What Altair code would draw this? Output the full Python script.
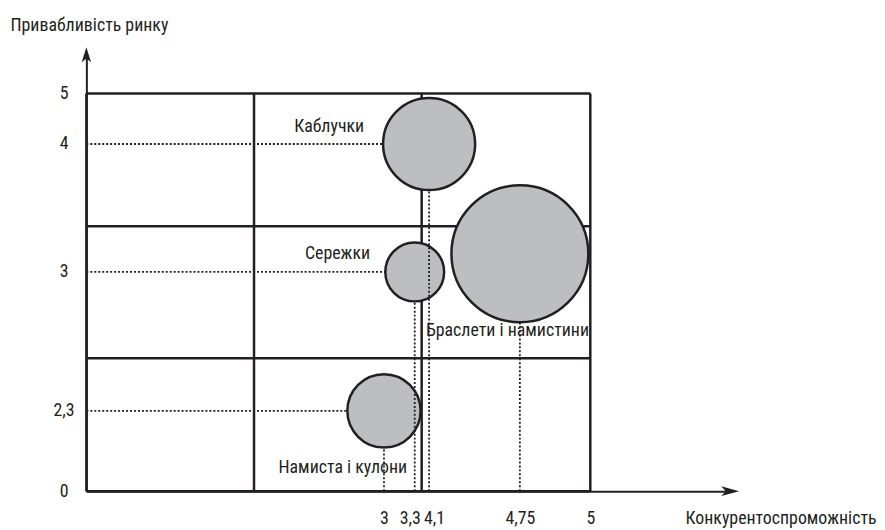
import altair as alt
import pandas as pd

# ---------------- data ----------------
products = ["Намиста і кулони", "Сережки", "Каблучки", "Браслети і намистини"]
competitiveness = [3.0, 3.3, 4.1, 4.75]
attractiveness = [2.3, 3.0, 4.0, 3.2]
share = [14.9, 9.6, 23.5, 52.0]
h_guide = [True, True, True, False]

x_ticks = [3, 3.3, 4.1, 4.75, 5]
y_ticks = [0, 2.3, 3, 4, 5]
x_bounds = [0, 2, 3.5, 5]
y_bounds = [0, 2.5, 3.5, 5]
x_end = 5.5
y_end = 5.75

# ---------------- styles ----------------
FONT = "Roboto Condensed, Liberation Sans Narrow, DejaVu Sans Condensed, sans-serif"
INK = "#231f20"
FILL = "#bcbec0"
FS = 18
MAX_DIAM = 138  # diameter of the largest bubble, px

# piecewise (schematic, not to scale) axes as in the original figure
x_scale = alt.Scale(domain=[0, 2, 3, 3.3, 3.5, 4.1, 4.75, 5, x_end],
                    range=[0, 169, 300, 331, 338, 345.5, 437, 508, 649],
                    nice=False, zero=False)
y_scale = alt.Scale(domain=[0, 2.3, 2.5, 3, 3.5, 4, 5, y_end],
                    range=[440, 359, 306, 219, 173, 90, 39, 0],
                    nice=False, zero=False)

x_axis = alt.Axis(values=x_ticks, format=".2~f", labelExpr="replace(datum.label, '.', ',')",
                  ticks=False, grid=False, domainColor=INK, domainWidth=2,
                  labelFont=FONT, labelFontSize=FS, labelColor=INK,
                  labelBaseline="alphabetic", labelPadding=33,
                  labelOverlap=False, labelFlush=False, labelBound=False,
                  labelOffset={"condition": [{"test": "datum.value == 3.3", "value": -5},
                                             {"test": "datum.value == 4.1", "value": 5}],
                               "value": 0},
                  title="Конкурентоспроможність", titleFont=FONT, titleFontSize=FS,
                  titleFontWeight="normal", titleColor=INK, titleX=796, titleY=33,
                  titleAlign="right", titleBaseline="alphabetic")
y_axis = alt.Axis(values=y_ticks, format=".1~f", labelExpr="replace(datum.label, '.', ',')",
                  ticks=False, grid=False, domainColor=INK, domainWidth=2,
                  labelFont=FONT, labelFontSize=FS, labelColor=INK,
                  labelAlign="center", labelBaseline="middle", labelPadding=23,
                  labelOverlap=False, labelFlush=False, labelBound=False,
                  title="Привабливість ринку", titleFont=FONT, titleFontSize=FS,
                  titleFontWeight="normal", titleColor=INK, titleAngle=0,
                  titleX=-77, titleY=-24, titleAlign="left", titleBaseline="alphabetic")


def X(f):
    return alt.X(f, type="quantitative", scale=x_scale, axis=x_axis)


def Y(f):
    return alt.Y(f, type="quantitative", scale=y_scale, axis=y_axis)


df = pd.DataFrame({"product": products, "x": competitiveness, "y": attractiveness,
                   "share": share, "h": h_guide})
df["zero"] = 0.0

vgrid = pd.DataFrame({"x": x_bounds})
vgrid["y0"] = y_bounds[0]
vgrid["y1"] = y_bounds[-1]
hgrid = pd.DataFrame({"y": y_bounds})
hgrid["x0"] = x_bounds[0]
hgrid["x1"] = x_bounds[-1]

base = alt.Chart(df)

layers = []
layers.append(alt.Chart(vgrid).mark_rule(color=INK, strokeWidth=2.5).encode(
    x=X("x"), y=Y("y0"), y2="y1"))
layers.append(alt.Chart(hgrid).mark_rule(color=INK, strokeWidth=2.5).encode(
    y=Y("y"), x=X("x0"), x2="x1"))

# symbol size = area of the bounding square, so proportional to share
size_enc = alt.Size("share:Q", scale=alt.Scale(domain=[0, max(share)],
                                                range=[0, MAX_DIAM ** 2]), legend=None)

for p in products:
    sel = base.transform_filter(alt.datum.product == p)
    layers.append(sel.mark_rule(color=INK, strokeWidth=1.8, strokeDash=[2, 2]).encode(
        x=X("x"), y=Y("zero"), y2="y"))
    layers.append(sel.transform_filter(alt.datum.h).mark_rule(
        color=INK, strokeWidth=1.8, strokeDash=[2, 2]).encode(
        y=Y("y"), x=X("zero"), x2="x"))
    layers.append(sel.mark_circle(fill=FILL, stroke=INK, strokeWidth=2.5, opacity=1,
                                  fillOpacity=1).encode(x=X("x"), y=Y("y"), size=size_enc))

label_style = {
    "Каблучки": dict(align="right", dx=-65.5, dy=-12),
    "Сережки": dict(align="right", dx=-45, dy=-13),
    "Браслети і намистини": dict(align="center", dx=-12.5, dy=83),
    "Намиста і кулони": dict(align="center", dx=-41.5, dy=63),
}
for p, st in label_style.items():
    layers.append(base.transform_filter(alt.datum.product == p).mark_text(
        font=FONT, fontSize=FS, color=INK, baseline="alphabetic", **st).encode(
        x=X("x"), y=Y("y"), text="product:N"))

arrows = pd.DataFrame({"x": [x_end, 0.0], "y": [0.0, y_end]})
layers.append(alt.Chart(arrows.iloc[[0]]).mark_point(
    shape="M1,0L-1,-0.55L-0.5,0L-1,0.55Z", size=324, filled=True, color=INK, opacity=1).encode(
    x=X("x"), y=Y("y")))
layers.append(alt.Chart(arrows.iloc[[1]]).mark_point(
    shape="M0,-1L-0.63,1L0,0.5L0.63,1Z", size=225, filled=True, color=INK, opacity=1).encode(
    x=X("x"), y=Y("y")))

chart = alt.layer(*layers).properties(
    width=649, height=440,
    padding={"left": 79, "top": 45, "right": 148, "bottom": 36},
    autosize=alt.AutoSizeParams(type="none"),
    background="white",
).configure_view(stroke=None)

chart.save("out.html", embed_options={"renderer": "svg", "actions": False})
